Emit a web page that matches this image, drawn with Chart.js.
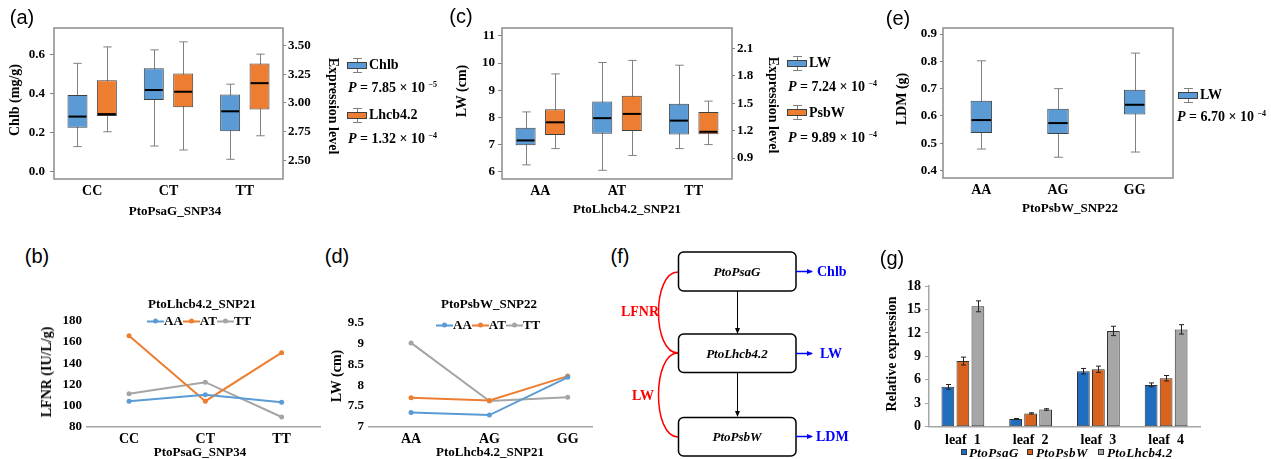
<!DOCTYPE html>
<html>
<head>
<meta charset="utf-8">
<script src="https://cdn.jsdelivr.net/npm/chart.js@4.4.1/dist/chart.umd.min.js"></script>
<style>
  body { margin: 0; background: #fff; }
  #fig { position: relative; width: 1271px; height: 459px; overflow: hidden;
         font-family: "Liberation Serif", "Times New Roman", serif; font-weight: bold; font-size: 13px; color: #000; }
  canvas { position: absolute; }
  .t { position: absolute; white-space: nowrap; line-height: 1; transform: translate(-50%, -50%); }
  .l { transform: translate(0, -50%); }
  .rl { transform: translate(-50%, -50%) rotate(-90deg); }
  .rr { transform: translate(-50%, -50%) rotate(90deg); }
  .pl { font-family: "Liberation Sans", Arial, sans-serif; font-weight: normal; font-size: 20px; }
  .big { font-size: 14px; }
  .ico { position: absolute; width: 20px; height: 15px; }
  .ico .wh { position: absolute; left: 10px; top: 0; width: 1px; height: 15px; background: #808080; }
  .ico .c1, .ico .c2 { position: absolute; left: 6px; width: 9px; height: 1px; background: #808080; }
  .ico .c1 { top: 0; } .ico .c2 { top: 14px; }
  .ico .bx { position: absolute; left: 0; top: 4px; width: 20px; height: 7px; box-sizing: border-box; border: 1px solid #404040; }
  .ln { display: inline-block; position: relative; width: 17px; height: 2px; vertical-align: middle; }
  .ln::after { content: ""; position: absolute; left: 6px; top: -2px; width: 5px; height: 5px; border-radius: 50%; background: inherit; }
  .sq { position: absolute; width: 6px; height: 6px; border: 1px solid #333; box-sizing: border-box; transform: translateY(-50%); }
  sup { font-size: 8px; vertical-align: 5px; }
</style>
</head>
<body>
<div id="fig">
  <canvas id="ca" width="345" height="215" style="left:0;top:0"></canvas>
  <canvas id="cc" width="370" height="215" style="left:430px;top:0"></canvas>
  <canvas id="ce" width="300" height="215" style="left:880px;top:0"></canvas>
  <canvas id="cb" width="340" height="165" style="left:0;top:290px"></canvas>
  <canvas id="cd" width="280" height="165" style="left:330px;top:290px"></canvas>
  <canvas id="cg" width="401" height="189" style="left:870px;top:270px"></canvas>

  <!-- panel letters -->
  <div class="t pl" style="left:22px;top:17px">(a)</div>
  <div class="t pl" style="left:461px;top:16px">(c)</div>
  <div class="t pl" style="left:898px;top:18px">(e)</div>
  <div class="t pl" style="left:37px;top:256px">(b)</div>
  <div class="t pl" style="left:337px;top:256px">(d)</div>
  <div class="t pl" style="left:620px;top:256px">(f)</div>
  <div class="t pl" style="left:892px;top:258px">(g)</div>

  <!-- (a) titles + legend -->
  <div class="t rl big" style="left:15px;top:100px">Chlb (mg/g)</div>
  <div class="t rr big" style="left:333px;top:106px">Expression level</div>
  <div class="t" style="left:175px;top:210px">PtoPsaG_SNP34</div>
  <div class="ico" style="left:347px;top:58px"><div class="wh"></div><div class="c1"></div><div class="c2"></div><div class="bx" style="background:#5b9bd5"></div></div>
  <div class="t l big" style="left:369px;top:65px">Chlb</div>
  <div class="t l big" style="left:348px;top:88px"><i>P</i> = 7.85 × 10 <sup>−5</sup></div>
  <div class="ico" style="left:347px;top:108px"><div class="wh"></div><div class="c1"></div><div class="c2"></div><div class="bx" style="background:#ed7d31"></div></div>
  <div class="t l big" style="left:369px;top:115px">Lhcb4.2</div>
  <div class="t l big" style="left:348px;top:139px"><i>P</i> = 1.32 × 10 <sup>−4</sup></div>

  <!-- (c) titles + legend -->
  <div class="t rl big" style="left:462px;top:91px">LW (cm)</div>
  <div class="t rr big" style="left:773px;top:105px">Expression level</div>
  <div class="t" style="left:627px;top:208px">PtoLhcb4.2_SNP21</div>
  <div class="ico" style="left:787px;top:56px"><div class="wh"></div><div class="c1"></div><div class="c2"></div><div class="bx" style="background:#5b9bd5"></div></div>
  <div class="t l big" style="left:809px;top:63px">LW</div>
  <div class="t l big" style="left:788px;top:87px"><i>P</i> = 7.24 × 10 <sup>−4</sup></div>
  <div class="ico" style="left:787px;top:105px"><div class="wh"></div><div class="c1"></div><div class="c2"></div><div class="bx" style="background:#ed7d31"></div></div>
  <div class="t l big" style="left:809px;top:113px">PsbW</div>
  <div class="t l big" style="left:788px;top:138px"><i>P</i> = 9.89 × 10 <sup>−4</sup></div>

  <!-- (e) titles + legend -->
  <div class="t rl big" style="left:902px;top:99px">LDM (g)</div>
  <div class="t" style="left:1070px;top:207px">PtoPsbW_SNP22</div>
  <div class="ico" style="left:1178px;top:88px"><div class="wh"></div><div class="c1"></div><div class="c2"></div><div class="bx" style="background:#5b9bd5"></div></div>
  <div class="t l big" style="left:1200px;top:95px">LW</div>
  <div class="t l big" style="left:1177px;top:117px"><i>P</i> = 6.70 × 10 <sup>−4</sup></div>

  <!-- (b) -->
  <div class="t rl big" style="left:47px;top:372px">LFNR (IU/L/g)</div>
  <div class="t" style="left:200px;top:451px">PtoPsaG_SNP34</div>
  <div class="t" style="left:202px;top:303px">PtoLhcb4.2_SNP21</div>
  <div class="t l" style="left:147px;top:320px"><span class="ln" style="background:#5b9bd5"></span>AA<span class="ln" style="background:#ed7d31"></span>AT<span class="ln" style="background:#a5a5a5"></span>TT</div>

  <!-- (d) -->
  <div class="t rl big" style="left:337px;top:376px">LW (cm)</div>
  <div class="t" style="left:490px;top:451px">PtoLhcb4.2_SNP21</div>
  <div class="t" style="left:489px;top:303px">PtoPsbW_SNP22</div>
  <div class="t l" style="left:436px;top:324px"><span class="ln" style="background:#5b9bd5"></span>AA<span class="ln" style="background:#ed7d31"></span>AT<span class="ln" style="background:#a5a5a5"></span>TT</div>

  <!-- (g) -->
  <div class="t rl big" style="left:892px;top:354px">Relative expression</div>
  <div class="sq" style="left:961px;top:452px;background:#1f6dbf"></div>
  <div class="t l" style="left:969px;top:452px;font-style:italic;letter-spacing:0.4px">PtoPsaG</div>
  <div class="sq" style="left:1027px;top:452px;background:#d8631f"></div>
  <div class="t l" style="left:1036px;top:452px;font-style:italic;letter-spacing:0.4px">PtoPsbW</div>
  <div class="sq" style="left:1098px;top:452px;background:#a6a6a6"></div>
  <div class="t l" style="left:1107px;top:452px;font-style:italic;letter-spacing:0.4px">PtoLhcb4.2</div>

  <!-- (f) diagram -->
  <svg style="position:absolute;left:0;top:0" width="1271" height="459" font-family="Liberation Serif, Times New Roman, serif" font-weight="bold" font-size="13">
    <defs>
      <marker id="mk" markerWidth="6" markerHeight="6" refX="5" refY="3" orient="auto" markerUnits="userSpaceOnUse"><path d="M0,0.5 L6,3 L0,5.5 z" fill="#000"/></marker>
      <marker id="mb" markerWidth="6" markerHeight="6" refX="5" refY="3" orient="auto" markerUnits="userSpaceOnUse"><path d="M0,0.5 L6,3 L0,5.5 z" fill="#0000ff"/></marker>
    </defs>
    <path d="M678,272 C652,272 652,353 678,353" fill="none" stroke="#ff0000" stroke-width="1.5"/>
    <path d="M678,353 C652,353 652,437 678,437" fill="none" stroke="#ff0000" stroke-width="1.5"/>
    <line x1="737.5" y1="291" x2="737.5" y2="333" stroke="#000" stroke-width="1" marker-end="url(#mk)"/>
    <line x1="737.5" y1="373" x2="737.5" y2="416" stroke="#000" stroke-width="1" marker-end="url(#mk)"/>
    <rect x="678.5" y="252" width="117.5" height="39" rx="5" fill="#fff" stroke="#000" stroke-width="1.5"/>
    <rect x="678.5" y="334" width="117.5" height="38.5" rx="5" fill="#fff" stroke="#000" stroke-width="1.5"/>
    <rect x="678.5" y="417.5" width="117.5" height="38.5" rx="5" fill="#fff" stroke="#000" stroke-width="1.5"/>
    <text x="737" y="276" text-anchor="middle" font-style="italic">PtoPsaG</text>
    <text x="737" y="358" text-anchor="middle" font-style="italic">PtoLhcb4.2</text>
    <text x="737" y="441" text-anchor="middle" font-style="italic">PtoPsbW</text>
    <line x1="796" y1="271.5" x2="812" y2="271.5" stroke="#0000ff" stroke-width="1.5" marker-end="url(#mb)"/>
    <line x1="796" y1="353.5" x2="812" y2="353.5" stroke="#0000ff" stroke-width="1.5" marker-end="url(#mb)"/>
    <line x1="796" y1="436.5" x2="812" y2="436.5" stroke="#0000ff" stroke-width="1.5" marker-end="url(#mb)"/>
    <text x="817" y="276" fill="#0000ff" font-size="14">Chlb</text>
    <text x="820" y="358" fill="#0000ff" font-size="14">LW</text>
    <text x="816" y="441" fill="#0000ff" font-size="14">LDM</text>
    <text x="640" y="316" fill="#ff0000" text-anchor="middle" font-size="14">LFNR</text>
    <text x="643" y="400" fill="#ff0000" text-anchor="middle" font-size="14">LW</text>
  </svg>
</div>

<script>
// ---- data ----
// box plots: [min, q1, median, q3, max] per genotype
const genoA = ["CC", "CT", "TT"];
const chlbBox = [[0.13, 0.227, 0.284, 0.395, 0.557], [0.133, 0.369, 0.42, 0.532, 0.626], [0.065, 0.209, 0.311, 0.397, 0.45]];
const lhcbBox = [[2.749, 2.886, 2.903, 3.199, 3.489], [2.59, 2.962, 3.098, 3.258, 3.533], [2.714, 2.944, 3.173, 3.345, 3.426]];
const chlbTicks = [0, 0.2, 0.4, 0.6];
const exprTicksA = [2.5, 2.75, 3.0, 3.25, 3.5];

const genoC = ["AA", "AT", "TT"];
const lwBox = [[6.25, 6.97, 7.15, 7.62, 8.2], [6.05, 7.4, 7.97, 8.58, 10.02], [6.85, 7.37, 7.88, 8.5, 9.92]];
const psbwBox = [[1.004, 1.152, 1.292, 1.435, 1.822], [0.929, 1.197, 1.384, 1.584, 1.97], [1.048, 1.162, 1.188, 1.405, 1.524]];
const lwTicks = [6, 7, 8, 9, 10, 11];
const exprTicksC = [0.9, 1.2, 1.5, 1.8, 2.1];

const genoE = ["AA", "AG", "GG"];
const ldmBox = [[0.479, 0.538, 0.585, 0.656, 0.802], [0.449, 0.534, 0.574, 0.626, 0.70], [0.468, 0.605, 0.641, 0.696, 0.83]];
const ldmTicks = [0.4, 0.5, 0.6, 0.7, 0.8, 0.9];

// interaction lines
const genoB = ["CC", "CT", "TT"];
const lfnrAA = [104, 110, 103];
const lfnrAT = [166, 104, 150];
const lfnrTT = [111, 122, 89];

const genoD = ["AA", "AG", "GG"];
const lwAA = [7.34, 7.28, 8.19];
const lwAT = [7.70, 7.63, 8.22];
const lwTT = [9.02, 7.62, 7.71];

// relative expression
const leaves = ["leaf  1", "leaf  2", "leaf  3", "leaf  4"];
const psaGExpr = [5.1, 1.0, 7.1, 5.35];
const psaGErr = [0.3, 0.05, 0.35, 0.25];
const psbWExpr = [8.4, 1.7, 7.35, 6.2];
const psbWErr = [0.5, 0.08, 0.4, 0.35];
const lhcbExpr = [15.4, 2.2, 12.25, 12.45];
const lhcbErr = [0.7, 0.1, 0.6, 0.6];

const BLUE = "#5b9bd5", ORANGE = "#ed7d31", GREY = "#a5a5a5";

Chart.defaults.font.family = "'Liberation Serif', 'Times New Roman', serif";
Chart.defaults.font.size = 13;
Chart.defaults.font.weight = "bold";
Chart.defaults.color = "#000";
Chart.defaults.animation = false;
Chart.defaults.responsive = false;
Chart.defaults.plugins.legend.display = false;
Chart.defaults.plugins.tooltip.enabled = false;

// whiskers behind the boxes, medians on top
const boxPlugin = {
  id: "boxPlot",
  beforeDatasetsDraw(chart) {
    const ctx = chart.ctx;
    chart.data.datasets.forEach((ds, di) => {
      if (!ds.stats) return;
      const meta = chart.getDatasetMeta(di);
      const sc = chart.scales[meta.yAxisID];
      meta.data.forEach((bar, i) => {
        const s = ds.stats[i];
        const x = Math.round(bar.x) + 0.5;
        const cw = bar.width * 0.21;
        const lo = sc.getPixelForValue(s[0]), hi = sc.getPixelForValue(s[4]);
        ctx.save();
        ctx.strokeStyle = "#808080";
        ctx.lineWidth = 1;
        ctx.beginPath();
        ctx.moveTo(x, lo); ctx.lineTo(x, hi);
        ctx.moveTo(x - cw, lo); ctx.lineTo(x + cw, lo);
        ctx.moveTo(x - cw, hi); ctx.lineTo(x + cw, hi);
        ctx.stroke();
        ctx.restore();
      });
    });
  },
  afterDatasetsDraw(chart) {
    const ctx = chart.ctx;
    chart.data.datasets.forEach((ds, di) => {
      if (!ds.stats) return;
      const meta = chart.getDatasetMeta(di);
      const sc = chart.scales[meta.yAxisID];
      meta.data.forEach((bar, i) => {
        const y = sc.getPixelForValue(ds.stats[i][2]);
        ctx.save();
        ctx.strokeStyle = "#000";
        ctx.lineWidth = 2;
        ctx.beginPath();
        ctx.moveTo(bar.x - bar.width / 2 + 1, y);
        ctx.lineTo(bar.x + bar.width / 2 - 1, y);
        ctx.stroke();
        ctx.restore();
      });
    });
  }
};

const framePlugin = {
  id: "frame",
  afterDraw(chart) {
    const a = chart.chartArea, ctx = chart.ctx;
    ctx.save();
    ctx.strokeStyle = "#8c8c8c";
    ctx.lineWidth = 1.5;
    ctx.strokeRect(a.left, a.top, a.right - a.left, a.bottom - a.top);
    ctx.restore();
  }
};

const errPlugin = {
  id: "errBars",
  afterDatasetsDraw(chart) {
    const ctx = chart.ctx;
    chart.data.datasets.forEach((ds, di) => {
      if (!ds.err) return;
      const meta = chart.getDatasetMeta(di);
      const sc = chart.scales[meta.yAxisID];
      meta.data.forEach((bar, i) => {
        const v = ds.data[i], e = ds.err[i];
        const x = Math.round(bar.x) + 0.5;
        const t = sc.getPixelForValue(v + e), b = sc.getPixelForValue(v - e);
        ctx.save();
        ctx.strokeStyle = "#222";
        ctx.lineWidth = 1;
        ctx.beginPath();
        ctx.moveTo(x, t); ctx.lineTo(x, b);
        ctx.moveTo(x - 2.5, t); ctx.lineTo(x + 2.5, t);
        ctx.moveTo(x - 2.5, b); ctx.lineTo(x + 2.5, b);
        ctx.stroke();
        ctx.restore();
      });
    });
  }
};

function boxSet(label, stats, color, axis) {
  return {
    label, stats, yAxisID: axis,
    data: stats.map(s => [s[1], s[3]]),
    backgroundColor: color, borderColor: "#404040", borderWidth: 1, borderSkipped: false
  };
}

function yAxis(pos, min, max, ticks, digits, width, pad, tl) {
  return {
    type: "linear", position: pos, min, max,
    afterBuildTicks(s) { s.ticks = ticks.map(v => ({ value: v })); },
    ticks: { padding: pad, callback: v => Number(v).toFixed(digits) },
    grid: { display: true, drawOnChartArea: false, drawTicks: true, tickLength: tl, color: "#808080" },
    border: { display: false },
    afterFit(s) { s.width = width; }
  };
}

function xBox(h) {
  return {
    grid: { display: false, drawTicks: false }, border: { display: false },
    ticks: { padding: 4, font: { size: 14 } },
    afterFit(s) { s.height = h; }
  };
}

// (a)
new Chart(document.getElementById("ca"), {
  type: "bar",
  data: { labels: genoA, datasets: [boxSet("Chlb", chlbBox, BLUE, "y"), boxSet("Lhcb4.2", lhcbBox, ORANGE, "y2")] },
  options: {
    layout: { padding: { top: 28 } },
    datasets: { bar: { categoryPercentage: 0.77, barPercentage: 0.68 } },
    scales: {
      x: xBox(36),
      y: yAxis("left", -0.036, 0.738, chlbTicks, 1, 54, 5, 4),
      y2: yAxis("right", 2.337, 3.654, exprTicksA, 2, 62, 2, 3)
    }
  },
  plugins: [boxPlugin, framePlugin]
});

// (c)
new Chart(document.getElementById("cc"), {
  type: "bar",
  data: { labels: genoC, datasets: [boxSet("LW", lwBox, BLUE, "y"), boxSet("PsbW", psbwBox, ORANGE, "y2")] },
  options: {
    layout: { padding: { top: 28 } },
    datasets: { bar: { categoryPercentage: 0.77, barPercentage: 0.68 } },
    scales: {
      x: xBox(36),
      y: yAxis("left", 5.73, 11.29, lwTicks, 0, 72, 3, 4),
      y2: yAxis("right", 0.671, 2.325, exprTicksC, 1, 68, 2, 3)
    }
  },
  plugins: [boxPlugin, framePlugin]
});

// (e)
new Chart(document.getElementById("ce"), {
  type: "bar",
  data: { labels: genoE, datasets: [boxSet("LW", ldmBox, BLUE, "y")] },
  options: {
    layout: { padding: { top: 28, right: 7 } },
    datasets: { bar: { categoryPercentage: 0.55, barPercentage: 0.51 } },
    scales: {
      x: xBox(37),
      y: yAxis("left", 0.373, 0.922, ldmTicks, 1, 63, 3, 3)
    }
  },
  plugins: [boxPlugin, framePlugin]
});

function lineSet(label, vals, color) {
  return {
    label, data: vals.map((v, i) => ({ x: i, y: v })),
    borderColor: color, backgroundColor: color, borderWidth: 2,
    pointRadius: 2.5, pointBorderWidth: 0, tension: 0
  };
}

function xLin(names, min, max, h) {
  return {
    type: "linear", min, max,
    afterBuildTicks(s) { s.ticks = names.map((_, i) => ({ value: i })); },
    ticks: { padding: 4, font: { size: 14 }, callback: v => names[v] },
    grid: { display: false, drawTicks: false },
    border: { display: true, color: "#a6a6a6", width: 1.5 },
    afterFit(s) { s.height = h; }
  };
}

function yLin(min, max, step, width) {
  return {
    min, max, ticks: { stepSize: step, padding: 5, callback: v => String(Number(v)) },
    grid: { display: false, drawTicks: false }, border: { display: false },
    afterFit(s) { s.width = width; }
  };
}

// (b)
new Chart(document.getElementById("cb"), {
  type: "line",
  data: { datasets: [lineSet("AA", lfnrAA, BLUE), lineSet("AT", lfnrAT, ORANGE), lineSet("TT", lfnrTT, GREY)] },
  options: {
    layout: { padding: { top: 31, right: 20 } },
    scales: { x: xLin(genoB, -0.551, 2.503, 28.5), y: yLin(80, 180, 20, 87) }
  }
});

// (d)
new Chart(document.getElementById("cd"), {
  type: "line",
  data: { datasets: [lineSet("AA", lwAA, BLUE), lineSet("AT", lwAT, ORANGE), lineSet("TT", lwTT, GREY)] },
  options: {
    layout: { padding: { top: 33, right: 18 } },
    scales: { x: xLin(genoD, -0.537, 2.31, 28.3), y: yLin(7, 9.5, 0.5, 39) }
  }
});

// (g)
function exprSet(label, vals, err, color) {
  return { label, data: vals, err, backgroundColor: color, borderColor: "#333", borderWidth: 1, borderSkipped: false };
}
new Chart(document.getElementById("cg"), {
  type: "bar",
  data: {
    labels: leaves,
    datasets: [
      exprSet("PtoPsaG", psaGExpr, psaGErr, "#1f6dbf"),
      exprSet("PtoPsbW", psbWExpr, psbWErr, "#d8631f"),
      exprSet("PtoLhcb4.2", lhcbExpr, lhcbErr, "#a6a6a6")
    ]
  },
  options: {
    layout: { padding: { top: 16, right: 71 } },
    datasets: { bar: { categoryPercentage: 0.665, barPercentage: 0.85 } },
    scales: {
      x: {
        grid: { display: false, drawTicks: false }, border: { display: true, color: "#a6a6a6", width: 1.5 },
        ticks: { padding: 5, font: { size: 14 } },
        afterFit(s) { s.height = 32.3; }
      },
      y: {
        min: 0, max: 18, ticks: { stepSize: 3, padding: 4, font: { size: 14 } },
        grid: { display: true, drawOnChartArea: false, tickLength: 4, color: "#a6a6a6" },
        border: { display: true, color: "#a6a6a6", width: 1.5 },
        afterFit(s) { s.width = 59; }
      }
    }
  },
  plugins: [errPlugin]
});
</script>
</body>
</html>
